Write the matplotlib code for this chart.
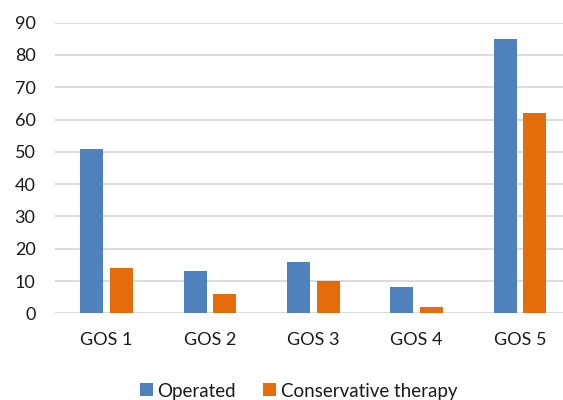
import matplotlib
matplotlib.use("Agg")
import matplotlib.pyplot as plt
from matplotlib.patches import Patch
import numpy as np

categories = ["GOS 1", "GOS 2", "GOS 3", "GOS 4", "GOS 5"]
operated = [51, 13, 16, 8, 85]
conservative = [14, 6, 10, 2, 62]
series_names = ["Operated", "Conservative therapy"]
yticks = list(range(0, 91, 10))

BLUE = "#4F81BD"
ORANGE = "#E46C0A"
GRID = "#D9D9D9"
TEXT = "#1a1a1a"

plt.rcParams["font.family"] = ["Lato", "DejaVu Sans"]

fig = plt.figure(figsize=(5.63, 4.0), dpi=100)
W, H = 563, 400
left, right, top, bottom = 55, 571.6, 22.7, 313.3
ax = fig.add_axes([left / W, (H - bottom) / H, (right - left) / W, (bottom - top) / H])

x = np.arange(len(categories))
bw = 0.223
off = 0.143
ax.bar(x - off, operated, width=bw, color=BLUE, zorder=3)
ax.bar(x + off, conservative, width=bw, color=ORANGE, zorder=3)

ax.set_xlim(-0.5, len(categories) - 0.5)
ax.set_ylim(0, 90)
ax.set_yticks(yticks)
ax.set_xticks(x)
ax.set_xticklabels(categories)
ax.yaxis.grid(True, color=GRID, linewidth=1.3, zorder=0)
ax.set_axisbelow(True)
for s in ax.spines.values():
    s.set_visible(False)
ax.tick_params(axis="both", length=0, labelsize=13, labelcolor=TEXT)
ax.tick_params(axis="y", pad=14)
ax.tick_params(axis="x", pad=13.5)

handles = [Patch(facecolor=BLUE), Patch(facecolor=ORANGE)]
fig.legend(handles, series_names, loc="center", bbox_to_anchor=(298.5 / W, (H - 391) / H),
           ncol=2, frameon=False, fontsize=13.5, handlelength=0.68, handleheight=0.68,
           handletextpad=0.25, columnspacing=1.45, labelcolor=TEXT, borderpad=0, borderaxespad=0)

fig.savefig("out.png", dpi=100)
